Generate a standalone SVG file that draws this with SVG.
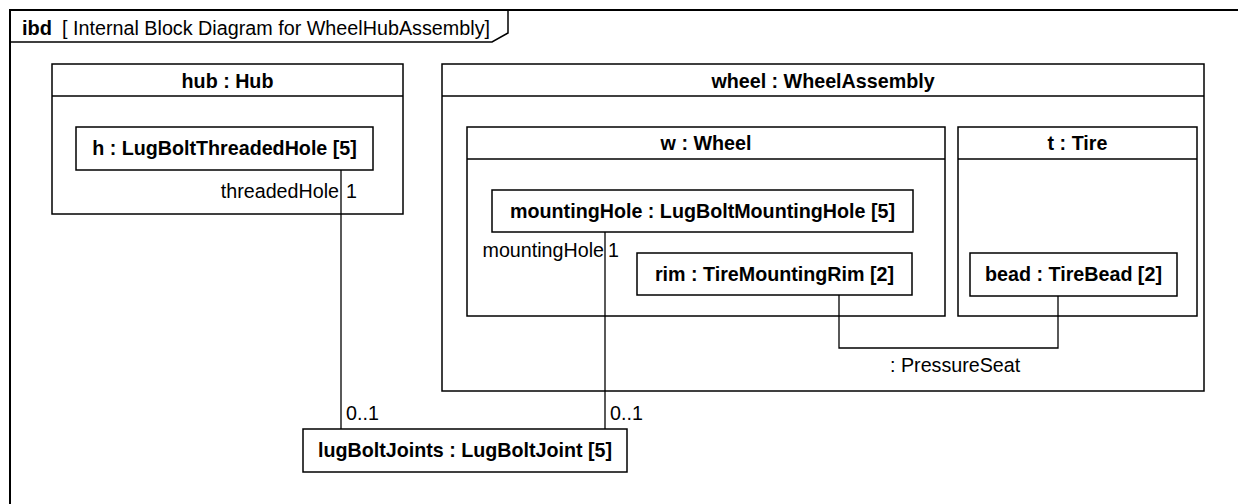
<svg xmlns="http://www.w3.org/2000/svg" width="1238" height="504" viewBox="0 0 1238 504">
  <style>
    .frame { fill: none; stroke: #000; stroke-width: 2; }
    .box { fill: #fff; stroke: #000; stroke-width: 1.5; }
    .line { fill: none; stroke: #000; stroke-width: 1.5; }
    .conn { fill: none; stroke: #000; stroke-width: 1.3; }
    text { font-family: "Liberation Sans", Arial, sans-serif; font-size: 19.7px; fill: #000; }
    .b { font-weight: bold; }
    .c { text-anchor: middle; }
    .r { text-anchor: end; }
    .tt { font-size: 20px; }
  </style>
  <rect width="1238" height="504" fill="#fff"/>
  <g id="frame">
    <path class="frame" d="M10,520 V10 H1250"/>
    <path class="line" d="M10,42 H492 L508,33 V10"/>
    <text x="22" y="35" class="b tt">ibd</text>
    <text x="62" y="35" class="tt" textLength="428" lengthAdjust="spacingAndGlyphs">[ Internal Block Diagram for WheelHubAssembly]</text>
  </g>
  <g id="hub">
    <rect class="box" x="52" y="64" width="351" height="150"/>
    <line class="line" x1="52" y1="96" x2="403" y2="96"/>
    <text x="227.5" y="88" class="b c">hub : Hub</text>
  </g>
  <g id="h">
    <rect class="box" x="76" y="127" width="297" height="43"/>
    <text x="224.5" y="155" class="b c">h : LugBoltThreadedHole [5]</text>
  </g>
  <g id="wheel">
    <rect class="box" x="442" y="64" width="762" height="327"/>
    <line class="line" x1="442" y1="96" x2="1204" y2="96"/>
    <text x="823" y="88" class="b c">wheel : WheelAssembly</text>
  </g>
  <g id="w">
    <rect class="box" x="467" y="127" width="478" height="189"/>
    <line class="line" x1="467" y1="159" x2="945" y2="159"/>
    <text x="706" y="150" class="b c">w : Wheel</text>
  </g>
  <g id="t">
    <rect class="box" x="958" y="127" width="239" height="189"/>
    <line class="line" x1="958" y1="159" x2="1197" y2="159"/>
    <text x="1077.5" y="150" class="b c">t : Tire</text>
  </g>
  <g id="mountingHole">
    <rect class="box" x="492" y="190" width="421" height="42"/>
    <text x="702.5" y="218" class="b c">mountingHole : LugBoltMountingHole [5]</text>
  </g>
  <g id="rim">
    <rect class="box" x="637" y="253" width="275" height="42"/>
    <text x="774.5" y="281" class="b c">rim : TireMountingRim [2]</text>
  </g>
  <g id="bead">
    <rect class="box" x="970" y="253" width="207" height="43"/>
    <text x="1073.5" y="281" class="b c">bead : TireBead [2]</text>
  </g>
  <g id="lugBoltJoints">
    <rect class="box" x="303" y="429" width="324" height="43"/>
    <text x="465" y="457" class="b c">lugBoltJoints : LugBoltJoint [5]</text>
  </g>
  <g id="connectors">
    <path class="conn" d="M341,170 V429"/>
    <path class="conn" d="M605,232 V429"/>
    <path class="conn" d="M839,295 V348 H1058 V296"/>
    <text x="339" y="198" class="r">threadedHole</text>
    <text x="346" y="198">1</text>
    <text x="604" y="257" class="r">mountingHole</text>
    <text x="608" y="257">1</text>
    <text x="346" y="420">0..1</text>
    <text x="610" y="420">0..1</text>
    <text x="890" y="372">: PressureSeat</text>
  </g>
</svg>
